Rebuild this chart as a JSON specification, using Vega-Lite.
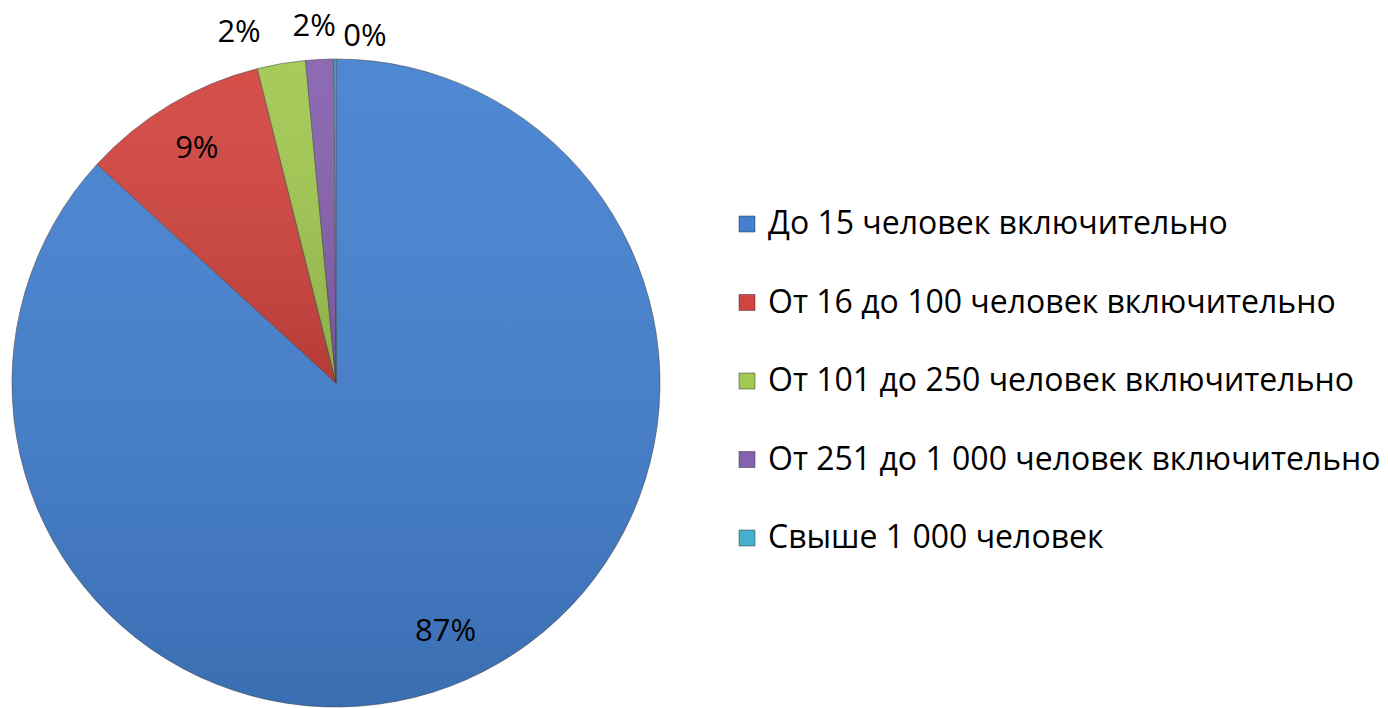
{
  "$schema": "https://vega.github.io/schema/vega-lite/v6.json",
  "width": 672,
  "height": 648,
  "padding": {"left": 0, "top": 59, "right": 716, "bottom": 1},
  "autosize": {"type": "none"},
  "background": "white",
  "config": {"view": {"stroke": null}, "font": "Open Sans"},
  "data": {
    "values": [
      {"category": "До 15 человек включительно", "value": 86.8, "label": "87%", "idx": 1},
      {"category": "От 16 до 100 человек включительно", "value": 9.3, "label": "9%", "idx": 2},
      {"category": "От 101 до 250 человек включительно", "value": 2.4, "label": "2%", "idx": 3},
      {"category": "От 251 до 1 000 человек включительно", "value": 1.4, "label": "2%", "idx": 4},
      {"category": "Свыше 1 000 человек", "value": 0.1, "label": "0%", "idx": 5}
    ]
  },
  "encoding": {
    "theta": {"field": "value", "type": "quantitative", "stack": true},
    "order": {"field": "idx", "type": "quantitative"}
  },
  "layer": [
    {
      "mark": {"type": "arc", "outerRadius": 324, "stroke": "#4a4a4a", "strokeWidth": 0.6},
      "encoding": {
        "color": {
          "field": "category",
          "type": "nominal",
          "scale": {
            "domain": ["До 15 человек включительно", "От 16 до 100 человек включительно", "От 101 до 250 человек включительно", "От 251 до 1 000 человек включительно", "Свыше 1 000 человек"],
            "range": ["#4380d0", "#d2443f", "#a2c851", "#8661ae", "#45b0cc"]
          },
          "legend": {
            "title": null,
            "orient": "none",
            "legendX": 731,
            "legendY": 149,
            "padding": 0,
            "symbolType": "square",
            "symbolSize": 256,
            "symbolStrokeColor": "#333333",
            "symbolStrokeWidth": 0.5,
            "labelFontSize": 32,
            "labelColor": "black",
            "labelOffset": 5,
            "labelLimit": 800,
            "rowPadding": 46.5
          }
        }
      }
    },
    {
      "mark": {
        "type": "arc",
        "outerRadius": 324,
        "fill": {
          "gradient": "linear", "x1": 0, "y1": 0, "x2": 0, "y2": 1,
          "stops": [
            {"offset": 0, "color": "rgba(255,255,255,0.06)"},
            {"offset": 1, "color": "rgba(0,0,0,0.14)"}
          ]
        }
      }
    },
    {
      "mark": {"type": "text", "radius": 272, "fontSize": 31, "color": "black"},
      "encoding": {"text": {"condition": {"test": "datum.idx <= 2", "field": "label"}, "value": ""}}
    },
    {
      "mark": {"type": "text", "radius": 355, "dx": -37, "fontSize": 31, "color": "black"},
      "encoding": {"text": {"condition": {"test": "datum.idx == 3", "field": "label"}, "value": ""}}
    },
    {
      "mark": {"type": "text", "radius": 356, "dx": -4, "fontSize": 31, "color": "black"},
      "encoding": {"text": {"condition": {"test": "datum.idx == 4", "field": "label"}, "value": ""}}
    },
    {
      "mark": {"type": "text", "radius": 346, "dx": 30, "fontSize": 31, "color": "black"},
      "encoding": {"text": {"condition": {"test": "datum.idx == 5", "field": "label"}, "value": ""}}
    }
  ]
}
